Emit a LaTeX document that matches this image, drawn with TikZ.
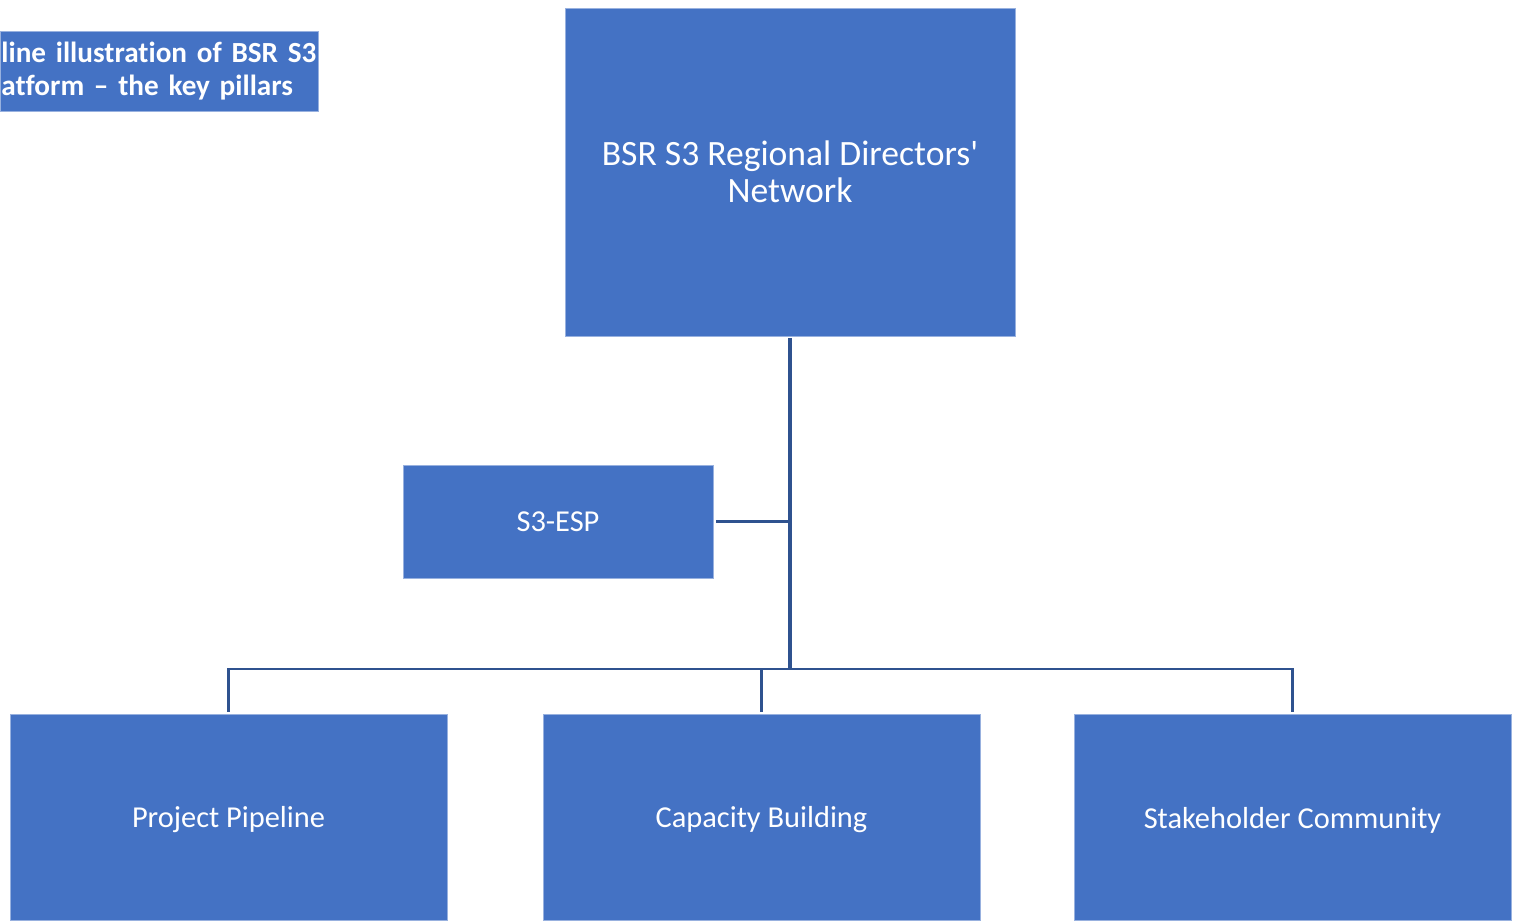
\documentclass[tikz,border=0pt]{standalone}
\usepackage{fontspec}
\setmainfont{Carlito}[Ligatures={NoCommon}]
\definecolor{boxblue}{HTML}{4472C4}
\definecolor{lineblue}{HTML}{2F528F}
\newcommand{\lowtext}[1]{\raisebox{-1.5pt}[\height][\depth]{#1}}
\begin{document}
\begin{tikzpicture}[x=0.5pt,y=-0.5pt]
\useasboundingbox (0,0) rectangle (1513,923);
\tikzset{
  box/.style={fill=boxblue, draw=boxblue!55!white, line width=0.4pt, text=white, align=center, inner sep=0pt},
  conn/.style={draw=lineblue, line width=1.2pt},
  mainconn/.style={draw=lineblue, line width=1.6pt},
  boxfont/.style={font=\fontsize{15.2}{18.5}\selectfont}
}
\node[box, minimum width=225pt, minimum height=164pt, font=\fontsize{17.8}{18.5}\selectfont] (top) at (790,172) {BSR S3 Regional Directors\textquotesingle\\Network};
\node[box, boxfont, minimum width=155pt, minimum height=56.5pt] (esp) at (558,521.5) {S3-ESP};
\node[box, boxfont, minimum width=218.5pt, minimum height=103pt] (pp) at (228.5,817) {\lowtext{Project Pipeline}};
\node[box, boxfont, minimum width=218.5pt, minimum height=103pt] (cb) at (761.5,817) {\lowtext{Capacity Building}};
\node[box, boxfont, minimum width=218.5pt, minimum height=103pt] (sc) at (1292.5,817) {\lowtext{Stakeholder\ Community}};
\node[box, anchor=north west, minimum width=159pt, minimum height=40pt, text width=158pt, align=left, font=\bfseries\fontsize{14.6}{16.5}\selectfont] (title) at (0,31) {line illustration of BSR S3\\atform – the key pillars};
\coordinate (j) at (790,669);
\draw[mainconn] ([yshift=-1pt]top.south) -- (j);
\draw[conn] ([xshift=1.5pt]esp.east) -- (esp.east -| j);
\draw[conn] ([yshift=1pt]pp.north) -- (pp.north |- j) -- (sc.north |- j) -- ([yshift=1pt]sc.north);
\draw[conn] ([yshift=1pt]cb.north) -- (cb.north |- j);
\end{tikzpicture}
\end{document}
